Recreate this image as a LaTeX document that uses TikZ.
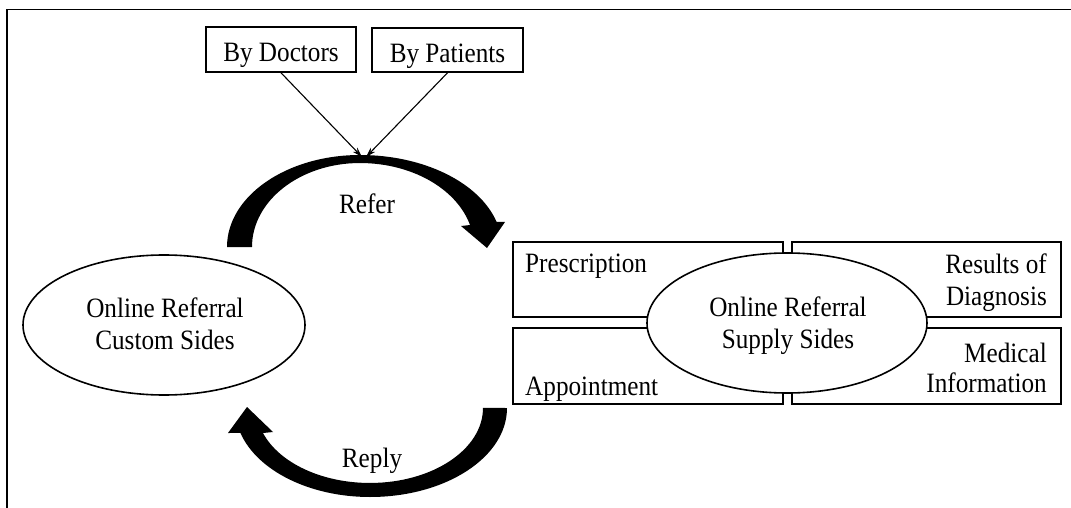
\documentclass[tikz,border=0pt]{standalone}
\usepackage{fontspec}
\setmainfont[FakeStretch=0.9]{Liberation Serif}
\usetikzlibrary{arrows.meta,shapes.geometric}
\begin{document}
\begin{tikzpicture}[x=1pt,y=-1pt,
  every node/.style={font=\fontsize{28}{32}\selectfont, inner sep=0pt},
  boxnode/.style={draw, line width=1.6pt, rectangle},
  ovalnode/.style={draw, line width=1.6pt, ellipse, fill=white},
  thinarrow/.style={-{Stealth[length=10pt,width=6pt]}, line width=1.1pt},
  bigarrow/.style={fill=black}]
\useasboundingbox (0,0) rectangle (1071,508);
% frame
\draw[line width=1.8pt] (7,508) -- (7,9.5) -- (1071,9.5);

% top source boxes
\node[boxnode, minimum width=150pt, minimum height=45pt, text height=30pt, text depth=5.6pt] (doc) at (281,49.5) {By Doctors};
\node[boxnode, minimum width=151pt, minimum height=44pt, text height=30pt, text depth=5.6pt] (pat) at (447.5,50) {By Patients};

% left ellipse
\node[ovalnode, minimum width=282pt, minimum height=140pt] (custom) at (164,325) {};
\node (customT) at (165,327.5) {\begin{tabular}{@{}c@{}}Online Referral\\Custom Sides\end{tabular}};

% right boxes
\node[boxnode, minimum width=270pt, minimum height=75pt] (presc) at (648,279.5) {};
\node[boxnode, minimum width=269pt, minimum height=75pt] (results) at (926.5,279.5) {};
\node[boxnode, minimum width=270pt, minimum height=76pt] (appoint) at (648,366) {};
\node[boxnode, minimum width=269pt, minimum height=76pt] (medinfo) at (926.5,366) {};
\node[anchor=base west] (prescT) at (525,272) {Prescription};
\node[anchor=base east] (resultsT) at (1047,273) {\begin{tabular}[t]{@{}r@{}}Results of\\Diagnosis\end{tabular}};
\node[anchor=base east] (medT) at (1047,362) {\begin{tabular}[t]{@{}r@{}}Medical\\[-2pt]Information\end{tabular}};
\node[anchor=base west] (appT) at (525,395) {Appointment};

% right ellipse
\node[ovalnode, minimum width=280pt, minimum height=140pt] (supply) at (787,323) {};
\node (supplyT) at (788,326.5) {\begin{tabular}{@{}c@{}}Online Referral\\Supply Sides\end{tabular}};

% Refer arrow
\coordinate (referstart) at (227,247);
\fill[bigarrow] (referstart)
  arc[start angle=180, end angle=90, x radius=133pt, y radius=92pt]
  arc[start angle=90, end angle=15.8, x radius=142pt, y radius=92pt]
  -- (505,222) -- (487,248) -- (461,226) -- (470,225)
  arc[start angle=15.2, end angle=90, x radius=114pt, y radius=84pt]
  arc[start angle=90, end angle=180, x radius=108pt, y radius=84pt]
  -- cycle;
\node (referT) at (367,203.5) {Refer};

% Reply arrow
\coordinate (replystart) at (507,408);
\fill[bigarrow] (replystart)
  arc[start angle=0, end angle=-90, x radius=137pt, y radius=89pt]
  arc[start angle=-90, end angle=-163.7, x radius=135pt, y radius=89pt]
  -- (228,433) -- (247,407) -- (273,432) -- (263,433)
  arc[start angle=-160.5, end angle=-90, x radius=113.5pt, y radius=75pt]
  arc[start angle=-90, end angle=0, x radius=113pt, y radius=75pt]
  -- cycle;
\node (replyT) at (372,460.5) {Reply};

% thin arrows
\coordinate (tipD) at (362,157);
\coordinate (tipP) at (366,157);
\draw[thinarrow] (doc.south) -- (tipD);
\draw[thinarrow] (pat.south) -- (tipP);
\end{tikzpicture}
\end{document}
